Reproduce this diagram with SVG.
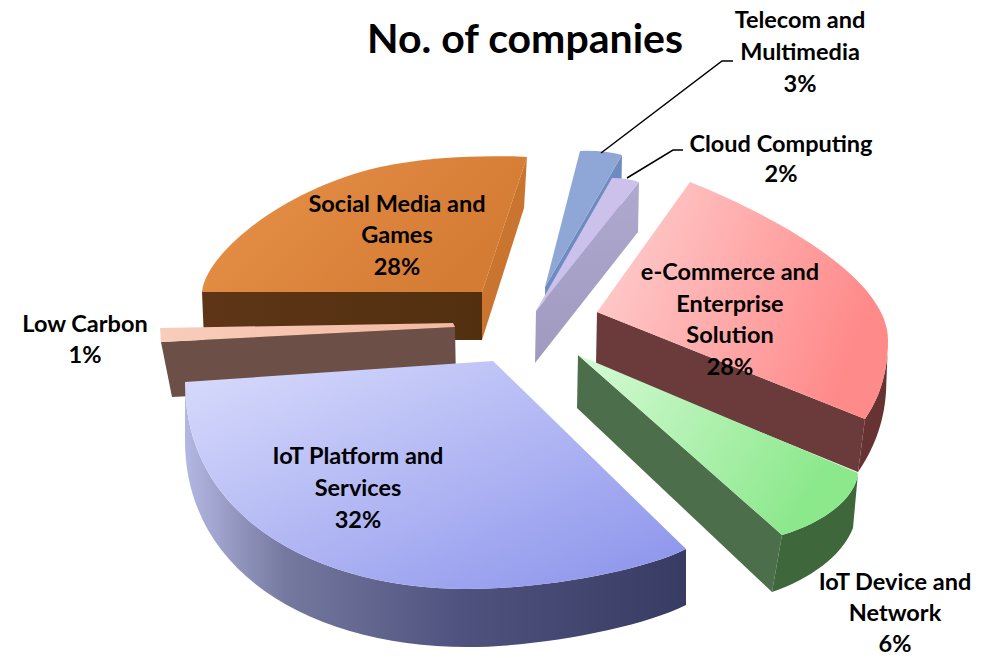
<svg xmlns="http://www.w3.org/2000/svg" width="991" height="658" viewBox="0 0 991 658">
<defs>
  <linearGradient id="gOrangeTop" x1="0" y1="0" x2="1" y2="0.4"><stop offset="0" stop-color="#E8924A"/><stop offset="1" stop-color="#D47B34"/></linearGradient>
  <linearGradient id="gOrangeFront" x1="0" y1="0" x2="1" y2="0"><stop offset="0" stop-color="#5E3517"/><stop offset="1" stop-color="#52300F"/></linearGradient>
  <linearGradient id="gLowTop" x1="0" y1="0" x2="1" y2="0"><stop offset="0" stop-color="#F9CDBB"/><stop offset="1" stop-color="#F3B9A3"/></linearGradient>
  <linearGradient id="gBlueTop" x1="0" y1="0" x2="1" y2="1"><stop offset="0" stop-color="#D9DCFC"/><stop offset="1" stop-color="#8A92EB"/></linearGradient>
  <linearGradient id="gBlueSide" x1="0" y1="0" x2="1" y2="0"><stop offset="0" stop-color="#B3B7E3"/><stop offset="0.2" stop-color="#75799F"/><stop offset="0.55" stop-color="#4F527E"/><stop offset="1" stop-color="#383B62"/></linearGradient>
  <linearGradient id="gPinkTop" x1="0" y1="0" x2="1" y2="0.3"><stop offset="0" stop-color="#FFD2D2"/><stop offset="1" stop-color="#FF8A8A"/></linearGradient>
  <linearGradient id="gGreenTop" x1="0" y1="0" x2="1" y2="0.4"><stop offset="0" stop-color="#D6FAD6"/><stop offset="1" stop-color="#8BE88B"/></linearGradient>
  <linearGradient id="gCloudCut" x1="0" y1="0" x2="0" y2="1"><stop offset="0" stop-color="#AFA8CF"/><stop offset="1" stop-color="#A09ABF"/></linearGradient>
</defs>
<style>
  text { font-family: Lato, "Open Sans", "Liberation Sans", sans-serif; font-weight: 700; fill: #000; text-anchor: middle; }
  .lbl { font-size: 23.5px; }
  .title { font-size: 41px; }
  .leader { stroke: #000; stroke-width: 1.5; fill: none; }
</style>
<rect width="991" height="658" fill="#FFFFFF"/>
<text class="title" x="525" y="53">No. of companies</text>

<g id="slice-social-media">
  <path d="M482,292 L527,157 L524,208 L482,340 Z" fill="#C9742F"/>
  <path d="M202,292 L482,292 L482,340 L204,340 Z" fill="url(#gOrangeFront)"/>
  <path d="M482,292 L202,292 C205,255 280,190 380,167 C430,156 490,155 527,157 Z" fill="url(#gOrangeTop)"/>
  <text class="lbl" x="397" y="212">Social Media and</text>
  <text class="lbl" x="397" y="243">Games</text>
  <text class="lbl" x="397" y="275">28%</text>
</g>

<g id="slice-low-carbon">
  <path d="M161,342 L455,327 L456,383 L172,397 Z" fill="#6C5047"/>
  <path d="M160,328 L453,323 L455,327 L161,342 Z" fill="url(#gLowTop)"/>
  <text class="lbl" x="85" y="332">Low Carbon</text>
  <text class="lbl" x="85" y="363">1%</text>
</g>

<g id="slice-iot-platform">
  <path d="M185,382 C185,520 320,589 467,589 C540,589 640,572 686,549 L686,605 C640,628 540,647 467,647 C320,647 185,578 185,440 Z" fill="url(#gBlueSide)"/>
  <path d="M493,361 L185,382 C185,520 320,589 467,589 C540,589 640,572 686,549 Z" fill="url(#gBlueTop)"/>
  <text class="lbl" x="358" y="464">IoT Platform and</text>
  <text class="lbl" x="358" y="496">Services</text>
  <text class="lbl" x="358" y="528">32%</text>
</g>

<g id="slice-telecom">
  <path d="M622,155 L621,205 L546,337 L545,287 Z" fill="#6E8BBF"/>
  <path d="M545,287 L580,151 Q601,150 622,155 Z" fill="#8FA7D7"/>
  <text class="lbl" x="800" y="28">Telecom and</text>
  <text class="lbl" x="800" y="60">Multimedia</text>
  <text class="lbl" x="800" y="92">3%</text>
</g>

<g id="slice-cloud">
  <path d="M639,182 L638,232 L535,363 L536,311 Z" fill="url(#gCloudCut)"/>
  <path d="M536,311 L612,178 Q626,178 639,182 Z" fill="#CBC1EA"/>
  <text class="lbl" x="781" y="152">Cloud Computing</text>
  <text class="lbl" x="781" y="182">2%</text>
</g>

<g id="slice-ecommerce">
  <path d="M597,312 L865,419 L858,472 L596,365 Z" fill="#6B3B3B"/>
  <path d="M888,340 C888,375 878,400 865,419 L858,472 C872,452 884,425 886,392 Z" fill="#673232"/>
  <path d="M597,312 L690,182 C765,212 888,275 888,340 C888,375 878,400 865,419 Z" fill="url(#gPinkTop)"/>
  <text class="lbl" x="730" y="280">e-Commerce and</text>
  <text class="lbl" x="730" y="312">Enterprise</text>
  <text class="lbl" x="730" y="343">Solution</text>
  <text class="lbl" x="730" y="375">28%</text>
</g>

<g id="slice-iot-device">
  <path d="M578,355 L782,535 L772,592 L577,408 Z" fill="#4D6E4A"/>
  <path d="M858,473 C856,497 826,522 782,535 L772,592 C810,579 842,556 853,528 Z" fill="#3F673C"/>
  <path d="M578,355 L858,473 C856,497 826,522 782,535 Z" fill="url(#gGreenTop)"/>
  <text class="lbl" x="895" y="590">IoT Device and</text>
  <text class="lbl" x="895" y="621">Network</text>
  <text class="lbl" x="895" y="652">6%</text>
</g>

<g id="connectors">
  <path class="leader" d="M601,153 L722,61 L733,61"/>
  <path class="leader" d="M627,178 L673,150 L683,150"/>
</g>
</svg>
